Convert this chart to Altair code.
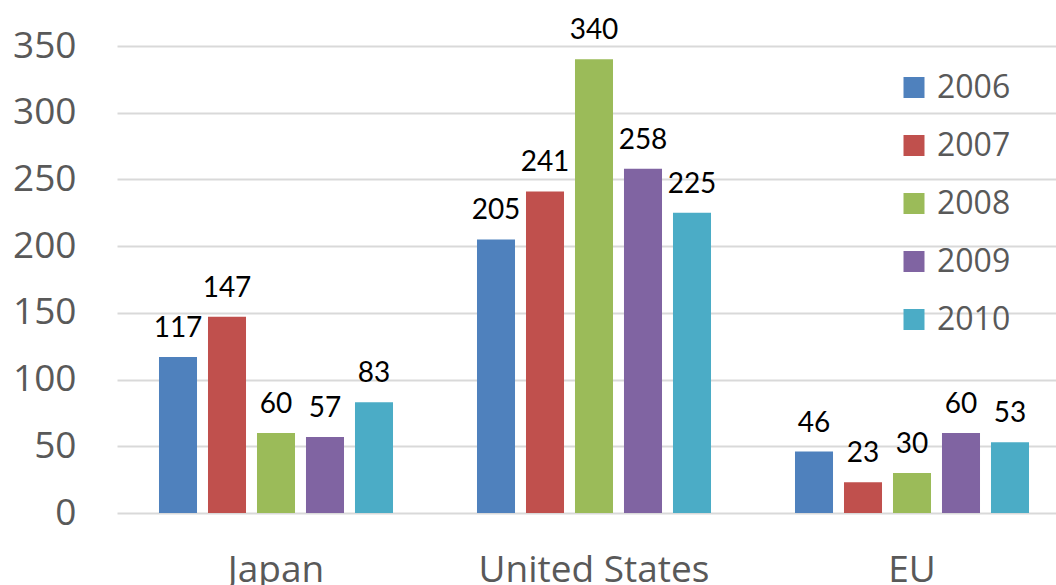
import altair as alt
import pandas as pd

# Series values per region and year
regions = ["Japan", "United States", "EU"]
years = ["2006", "2007", "2008", "2009", "2010"]
japan = [117, 147, 60, 57, 83]
united_states = [205, 241, 340, 258, 225]
eu = [46, 23, 30, 60, 53]
colors = ["#4F81BD", "#C0504D", "#9BBB59", "#8064A2", "#4BACC6"]
y_ticks = [0, 50, 100, 150, 200, 250, 300, 350]

rows = []
for region, vals in zip(regions, [japan, united_states, eu]):
    for yr, v in zip(years, vals):
        rows.append({"region": region, "year": yr, "value": v})
df = pd.DataFrame(rows)

x_enc = alt.X(
    "region:N",
    sort=regions,
    scale=alt.Scale(range=[0, 954], paddingInner=0, paddingOuter=0),
    axis=alt.Axis(
        title=None,
        labelAngle=0,
        domain=False,
        ticks=False,
        tickSize=0,
        grid=False,
        labelFont="Open Sans",
        labelFontSize=37,
        labelColor="#595959",
        labelPadding=39,
        labelLimit=0,
    ),
)
xoff_enc = alt.XOffset(
    "year:N",
    sort=years,
    scale=alt.Scale(paddingInner=0.224, paddingOuter=0.857),
)
y_enc = alt.Y(
    "value:Q",
    scale=alt.Scale(domain=[0, 350], nice=False),
    axis=alt.Axis(
        title=None,
        values=y_ticks,
        domain=False,
        ticks=False,
        tickSize=0,
        grid=True,
        gridColor="#d9d9d9",
        gridWidth=1.8,
        labelFont="Open Sans",
        labelFontSize=37,
        labelColor="#595959",
        labelPadding=41,
    ),
)

bars = alt.Chart(df).mark_bar().encode(
    x=x_enc,
    xOffset=xoff_enc,
    y=y_enc,
    color=alt.Color(
        "year:N",
        sort=years,
        scale=alt.Scale(domain=years, range=colors),
        legend=alt.Legend(
            title=None,
            orient="none",
            legendX=781,
            legendY=25.5,
            padding=0,
            symbolType="square",
            symbolSize=441,
            symbolStrokeWidth=0,
            labelFont="Open Sans",
            labelFontSize=32,
            labelColor="#595959",
            labelOffset=7,
            rowPadding=26,
        ),
    ),
)

labels = alt.Chart(df).mark_text(
    baseline="alphabetic",
    align="center",
    dy=-20,
    font="Lato",
    fontSize=28,
    color="#000000",
).encode(
    x=alt.X("region:N", sort=regions),
    xOffset=alt.XOffset("year:N", sort=years),
    y=alt.Y("value:Q"),
    text=alt.Text("value:Q"),
)

chart = (
    alt.layer(bars, labels)
    .properties(
        width=939,
        height=467,
        autosize=alt.AutoSizeParams(type="none"),
        padding={"left": 117, "top": 46, "right": 0, "bottom": 72},
        background="white",
    )
    .configure_view(stroke=None)
)

chart.save("out.html", embed_options={"renderer": "svg", "actions": False})
